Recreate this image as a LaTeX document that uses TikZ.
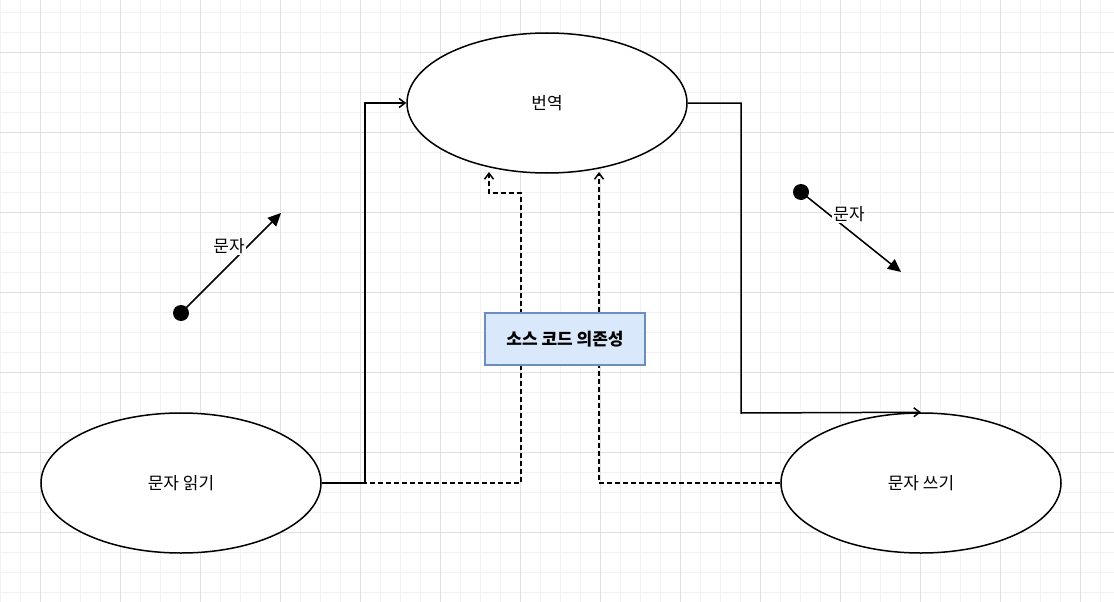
\documentclass[tikz,border=0pt]{standalone}
\usepackage{fontspec}
\setmainfont{Noto Sans CJK KR}
\usetikzlibrary{arrows.meta,shapes.geometric}
\begin{document}
\begin{tikzpicture}[x=1pt,y=-1pt,
  uc/.style={draw,line width=1.5pt,fill=white,ellipse,minimum width=280pt,minimum height=140pt,font=\fontsize{17}{20}\selectfont},
  conn/.style={line width=1.5pt,-{Straight Barb[length=6pt,width=9pt]}},
  dep/.style={line width=1.5pt,dashed,dash pattern=on 5pt off 3pt,-{Straight Barb[length=6pt,width=9pt]}},
  sm/.style={line width=1.5pt,-{Triangle[length=13pt,width=12pt]}},
  lbl/.style={fill=white,inner sep=1pt,font=\fontsize{17}{20}\selectfont}]
\useasboundingbox (0,0) rectangle (1114,602);
\fill[white] (0,0) rectangle (1114,602);
\foreach \x in {0,20,...,1100} \draw[black!5,line width=0.6pt] (\x,0) -- (\x,602);
\foreach \y in {12,32,...,600} \draw[black!5,line width=0.6pt] (0,\y) -- (1114,\y);
\foreach \x in {40,120,...,1100} \draw[black!12,line width=0.6pt] (\x,0) -- (\x,602);
\foreach \y in {52,132,...,600} \draw[black!12,line width=0.6pt] (0,\y) -- (1114,\y);
\node[uc] (tr) at (547,103) {번역};
\node[uc] (rd) at (181,483) {문자 읽기};
\node[uc] (wr) at (921,483) {문자 쓰기};
\coordinate (t1) at (489,172);
\coordinate (t2) at (599,172);
\draw[conn] (rd.east) -- (365,483) -- (365,103) -- (tr.west);
\draw[conn] (tr.east) -- (741,103) -- (741,413) -- (wr.north);
\draw[dep] (rd.east) -- (521,483) -- (521,193) -- (489,193) -- (t1);
\draw[dep] (wr.west) -- (599,483) -- (t2);
\node[draw={rgb,255:red,108;green,142;blue,191},fill={rgb,255:red,218;green,232;blue,252},line width=1.2pt,minimum width=160pt,minimum height=52pt,font=\bfseries\fontsize{17}{20}\selectfont] (box) at (565,339) {소스 코드 의존성};
\fill (181,313) circle (8pt) coordinate (d1);
\coordinate (e1) at (281,213);
\draw[sm] (d1) -- (e1);
\node[lbl] (l1) at (229,246) {문자};
\fill (801,192) circle (8pt) coordinate (d2);
\coordinate (e2) at (901,272);
\draw[sm] (d2) -- (e2);
\node[lbl] (l2) at (849,214) {문자};
\end{tikzpicture}
\end{document}
